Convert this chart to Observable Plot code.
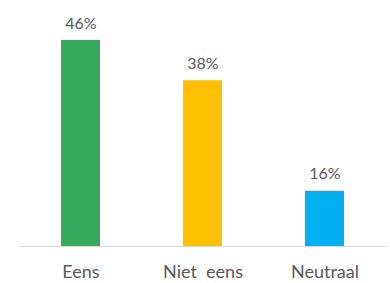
<!DOCTYPE html>
<html>
<head>
<meta charset="utf-8">
<script src="https://cdn.jsdelivr.net/npm/d3@7"></script>
<script src="https://cdn.jsdelivr.net/npm/@observablehq/plot@0.6"></script>
<style>
  html, body { margin: 0; padding: 0; background: #fff; }
  svg { display: block; }
</style>
</head>
<body>
<div id="chart"></div>
<script>
const categories = ["Eens", "Niet  eens", "Neutraal"];
const values = [46, 38, 16];
const labels = ["46%", "38%", "16%"];
const colors = ["#37a95a", "#ffc000", "#00b0f0"];
const yMin = 5;

const data = categories.map((c, i) => ({cat: c, value: values[i], label: labels[i], color: colors[i]}));

const chart = Plot.plot({
  width: 390,
  height: 283,
  marginTop: 40,
  marginBottom: 37,
  marginLeft: 19,
  marginRight: 3,
  style: {fontFamily: "Lato, sans-serif", background: "#fff"},
  x: {domain: categories, paddingInner: 0.68, paddingOuter: 0.34, label: null},
  y: {domain: [yMin, 46], clamp: true, axis: null},
  marks: [
    Plot.barY(data, {x: "cat", y1: yMin, y2: "value", fill: "color"}),
    Plot.ruleY([yMin], {stroke: "#d9d9d9", strokeWidth: 1}),
    Plot.text(data, {x: "cat", y: "value", text: "label", dy: -17, fontSize: 16, fill: "#595959"}),
    Plot.axisX({tickSize: 0, tickPadding: 19, fontSize: 18, color: "#595959", label: null, tickFormat: d => d})
  ]
});
document.getElementById("chart").appendChild(chart);
</script>
</body>
</html>
